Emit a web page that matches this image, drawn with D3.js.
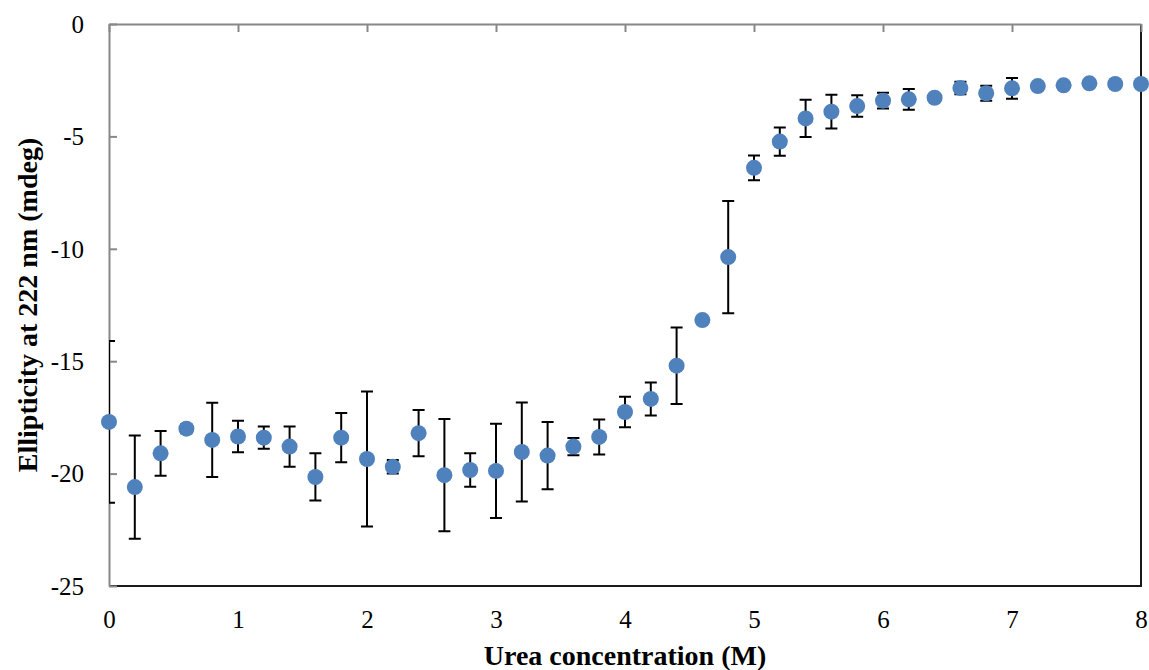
<!DOCTYPE html>
<html>
<head>
<meta charset="utf-8">
<script src="https://cdnjs.cloudflare.com/ajax/libs/d3/7.8.5/d3.min.js"></script>
<style>
  body { margin: 0; background: #fff; }
  svg text { font-family: "Liberation Serif", "Times New Roman", serif; fill: #000; }
</style>
</head>
<body>
<div id="chart"></div>
<script>
// Urea concentration (M)
const urea = [0, 0.2, 0.4, 0.6, 0.8, 1.0, 1.2, 1.4, 1.6, 1.8,
              2.0, 2.2, 2.4, 2.6, 2.8, 3.0, 3.2, 3.4, 3.6, 3.8,
              4.0, 4.2, 4.4, 4.6, 4.8, 5.0, 5.2, 5.4, 5.6, 5.8,
              6.0, 6.2, 6.4, 6.6, 6.8, 7.0, 7.2, 7.4, 7.6, 7.8, 8.0];

// Ellipticity at 222 nm (mdeg)
const ellipticity = [-17.7, -20.6, -19.1, -18.0, -18.5, -18.35, -18.4, -18.8, -20.15, -18.4,
                     -19.35, -19.7, -18.2, -20.07, -19.84, -19.88, -19.04, -19.2, -18.8, -18.37,
                     -17.26, -16.68, -15.2, -13.17, -10.37, -6.4, -5.23, -4.2, -3.9, -3.65,
                     -3.41, -3.35, -3.28, -2.85, -3.08, -2.86, -2.76, -2.73, -2.64, -2.67, -2.67];

// standard deviation (error bar half length)
const errors = [3.6, 2.3, 1.0, 0.2, 1.65, 0.7, 0.5, 0.9, 1.05, 1.1,
                3.0, 0.3, 1.03, 2.5, 0.75, 2.1, 2.2, 1.5, 0.38, 0.78,
                0.68, 0.73, 1.7, 0.1, 2.5, 0.55, 0.63, 0.83, 0.75, 0.48,
                0.35, 0.46, 0.05, 0.28, 0.33, 0.46, 0.1, 0.0, 0.0, 0.0, 0.0];

const xTicks = [0, 1, 2, 3, 4, 5, 6, 7, 8];
const yTicks = [0, -5, -10, -15, -20, -25];

const serif = '"Liberation Serif", "Times New Roman", serif';

const svgWidth = 1149;
const svgHeight = 670;
const margin = { top: 24, bottom: 84, right: 8, left: 109 };
const chartWidth = svgWidth - margin.left - margin.right;
const chartHeight = svgHeight - margin.top - margin.bottom;

const svg = d3.select('#chart')
  .append('svg')
  .attr('width', svgWidth)
  .attr('height', svgHeight)
  .style('font-family', serif);

const chartGroup = svg.append('g')
  .attr('transform', `translate(${margin.left}, ${margin.top})`);

const data = urea.map((u, i) => ({ x: u, y: ellipticity[i], e: errors[i] }));

const xScale = d3.scaleLinear().domain([0, 8]).range([0, chartWidth]);
const yScale = d3.scaleLinear().domain([-25, 0]).range([chartHeight, 0]);

// plot area border (bottom + right in black)
chartGroup.append('path')
  .attr('d', `M0,${chartHeight}H${chartWidth}V0`)
  .attr('fill', 'none')
  .attr('stroke', '#1a1a1a')
  .attr('stroke-width', 2);

// x axis sits at y = 0 (top), ticks pointing into the plot
const topAxis = chartGroup.append('g')
  .call(d3.axisTop(xScale).tickValues(xTicks).tickSizeInner(-8).tickSizeOuter(0).tickFormat(''));
topAxis.select('.domain').attr('stroke', '#888').attr('stroke-width', 2);
topAxis.selectAll('.tick line').attr('stroke', '#888').attr('stroke-width', 2);

// x labels placed low, below the plot
const bottomLabels = chartGroup.append('g')
  .attr('transform', `translate(0, ${chartHeight})`)
  .call(d3.axisBottom(xScale).tickValues(xTicks).tickSize(0).tickFormat(d => String(d)))
  .attr('font-family', serif);
bottomLabels.select('.domain').remove();
bottomLabels.selectAll('text')
  .style('font-family', serif)
  .attr('font-size', 25)
  .attr('dy', '0')
  .attr('y', 42);

// y axis
const leftAxis = chartGroup.append('g')
  .call(d3.axisLeft(yScale).tickValues(yTicks).tickSizeInner(-8).tickSizeOuter(0).tickPadding(25).tickFormat(d => String(d)))
  .attr('font-family', serif);
leftAxis.select('.domain').attr('stroke', '#888').attr('stroke-width', 2);
leftAxis.selectAll('.tick line').attr('stroke', '#888').attr('stroke-width', 2);
leftAxis.selectAll('text')
  .style('font-family', serif)
  .attr('font-size', 25)
  .attr('dy', '0.33em');

// error bars, clipped to plot area
svg.append('defs').append('clipPath')
  .attr('id', 'plotClip')
  .append('rect')
  .attr('x', 0).attr('y', 0)
  .attr('width', chartWidth).attr('height', chartHeight);

const errGroup = chartGroup.append('g')
  .attr('clip-path', 'url(#plotClip)')
  .attr('stroke', '#000')
  .attr('stroke-width', 2)
  .attr('fill', 'none');

const cap = 6;
errGroup.selectAll('path')
  .data(data.filter(d => d.e > 0))
  .enter()
  .append('path')
  .attr('d', d => {
    const cx = xScale(d.x);
    const y1 = yScale(d.y + d.e);
    const y2 = yScale(d.y - d.e);
    return `M${cx},${y1}V${y2}M${cx - cap},${y1}H${cx + cap}M${cx - cap},${y2}H${cx + cap}`;
  });

// markers
chartGroup.selectAll('circle')
  .data(data)
  .enter()
  .append('circle')
  .attr('cx', d => xScale(d.x))
  .attr('cy', d => yScale(d.y))
  .attr('r', 8)
  .attr('fill', '#4f81bd');

// axis titles
svg.append('text')
  .attr('x', margin.left + chartWidth / 2)
  .attr('y', 665)
  .attr('text-anchor', 'middle')
  .attr('font-size', 28)
  .attr('font-weight', 'bold')
  .text('Urea concentration (M)');

svg.append('text')
  .attr('transform', `translate(37, ${margin.top + chartHeight / 2}) rotate(-90)`)
  .attr('text-anchor', 'middle')
  .attr('font-size', 28)
  .attr('font-weight', 'bold')
  .text('Ellipticity at 222 nm (mdeg)');
</script>
</body>
</html>
